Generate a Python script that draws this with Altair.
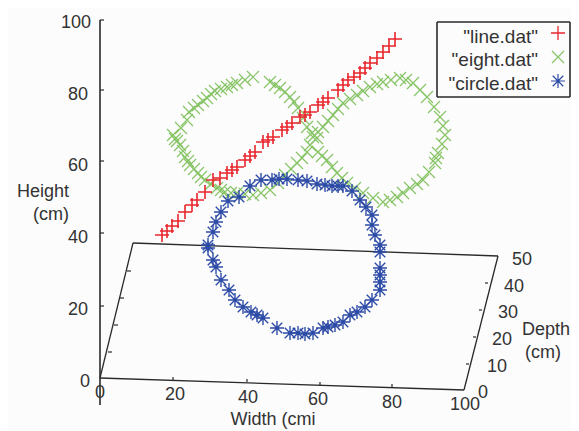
import altair as alt
import pandas as pd

FONT = "Liberation Sans"
RED, GREEN, BLUE, INK = "#e8262c", "#86c466", "#2c4ba6", "#2a2a2a"
W, H = 563, 423

line_x = [162,167,172,178,185,192,197,205,213,220,227,232,237,245,250,255,263,268,273,282,287,292,300,305,310,318,323,328,338,343,348,354,360,365,370,377,383,389,395]
line_y = [235,231,226,221,212,205,200,192,180,178,173,170,167,160,156,152,142,140,137,130,127,123,117,115,112,105,102,98,90,85,80,77,73,68,63,58,52,46,39]

eight_x = [253,245,237,232,227,221,215,211,207,203,198,194,189,187,181,173,175,177,180,183,185,188,190,194,198,201,205,211,217,221,225,231,237,245,253,261,270,278,285,291,297,302,307,310,313,318,323,328,333,338,343,350,357,363,370,377,383,391,400,406,413,420,427,434,440,443,445,442,438,436,435,429,423,417,410,403,397,390,383,373,363,355,347,342,337,332,327,322,318,317,312,307,303,298,294,290,285,280,275,270]
eight_y = [77,80,83,85,87,89,91,94,98,101,105,108,112,120,128,135,139,141,145,151,157,161,165,169,173,177,180,184,188,190,192,193,193,194,195,193,190,183,175,169,163,158,152,145,137,132,127,121,115,109,103,99,95,91,87,84,82,80,78,80,83,90,97,107,117,126,135,144,153,158,163,172,180,184,188,193,197,200,202,198,193,188,183,178,173,167,160,156,152,138,133,127,118,108,102,97,92,88,85,82]

circle_x = [250,261,272,279,287,298,307,317,325,332,338,343,352,360,366,372,372,375,380,380,380,380,380,380,372,365,357,350,343,335,328,323,313,305,298,290,277,263,257,251,243,235,229,221,216,213,208,208,213,216,221,228,239]
circle_y = [186,180,180,179,179,180,181,184,185,186,186,186,191,200,207,215,225,235,245,252,268,275,282,290,300,307,312,315,322,325,327,328,333,334,333,333,328,318,315,312,307,300,290,280,267,260,248,245,232,222,212,201,197]

edge_x1 = [100,100,133,498,464]
edge_y1 = [20,378,243,256,390]
edge_x2 = [100,133,498,464,100]
edge_y2 = [405,243,256,390,378]
edge_w = [1.6,1.3,1.3,1.3,1.3]

tick_x1 = [100,100,100,100,100,108,114,120,127,173,247,320,392,488,482,476,469]
tick_y1 = [20,90,161,233,306,352,325,298,271,380,382,385,387,283,310,337,364]
tick_x2 = [104,104,104,104,104,112,118,124,131,173,247,320,392,485,479,473,466]
tick_y2 = [20,90,161,233,306,352,325,298,271,377,379,382,384,283,310,337,364]

label_text = ["100","80","60","40","20","0","0","20","40","60","80","100","0","10","20","30","40","50","Width (cmi","Height","(cm)","Depth","(cm)"]
label_x = [76,78,78,78,78,85,100,175,248,318,392,465,483,497,502,508,514,522,273,43,51,546,543]
label_y = [23,95,166,238,310,382,393,395,398,400,403,405,393,367,340,313,287,260,420,192,215,330,353]

legend_text = ['"line.dat"','"eight.dat"','"circle.dat"']
legend_x = [538,538,538]
legend_y = [37,60,84]
key_x = [558,558,558]
key_y = [33,57,81]

box_x1, box_x2, box_y1, box_y2 = [437], [570], [22], [97]

PLUS = "M-1,0L1,0M0,-1L0,1"
CROSS = "M-1,-1L1,1M-1,1L1,-1"
STAR = "M-1,0L1,0M0,-1L0,1M-.75,-.75L.75,.75M-.75,.75L.75,-.75"

sx = alt.Scale(domain=[8, 8 + W], range=[0, W])
sy = alt.Scale(domain=[8, 8 + H], range=[0, H])
X = lambda f="x": alt.X(f"{f}:Q", scale=sx, axis=None)
Y = lambda f="y": alt.Y(f"{f}:Q", scale=sy, axis=None)

def rules(x1, y1, x2, y2, w):
    d = pd.DataFrame({"x": x1, "y": y1, "x2": x2, "y2": y2})
    return alt.Chart(d).mark_rule(color=INK, strokeWidth=w).encode(
        x=X(), y=Y(), x2="x2:Q", y2="y2:Q")

def pts(x, y, shape, color, size, width):
    d = pd.DataFrame({"x": x, "y": y})
    return alt.Chart(d).mark_point(shape=shape, stroke=color, size=size, strokeWidth=width, filled=False, opacity=1).encode(x=X(), y=Y())

def texts(t, x, y, align, size=18):
    d = pd.DataFrame({"t": t, "x": x, "y": y})
    return alt.Chart(d).mark_text(font=FONT, fontSize=size, color="#333333", align=align, baseline="middle").encode(
        x=X(), y=Y(), text="t:N")

edges = alt.layer(*[rules([a], [b], [c], [d], w) for a, b, c, d, w in zip(edge_x1, edge_y1, edge_x2, edge_y2, edge_w)])

chart = alt.layer(
    edges,
    rules(tick_x1, tick_y1, tick_x2, tick_y2, 1.2),
    pts(eight_x, eight_y, CROSS, GREEN, 144, 1.2),
    pts(line_x, line_y, PLUS, RED, 196, 1.6),
    pts(circle_x, circle_y, STAR, BLUE, 196, 1.4),
    texts(label_text, label_x, label_y, "center"),
    rules(box_x1 + box_x1 + box_x2 + box_x1, box_y1 + box_y2 + box_y1 + box_y1,
          box_x2 + box_x2 + box_x2 + box_x1, box_y1 + box_y2 + box_y2 + box_y2, 1.6),
    texts(legend_text, legend_x, legend_y, "right", 19),
    pts(key_x[:1], key_y[:1], PLUS, RED, 196, 1.3),
    pts(key_x[1:2], key_y[1:2], CROSS, GREEN, 144, 1.2),
    pts(key_x[2:], key_y[2:], STAR, BLUE, 196, 1.2),
).properties(
    width=W, height=H, background="#fcfcfc", padding=0,
    autosize=alt.AutoSizeParams(type="none"),
).configure_view(stroke=None)

chart.save("out.html", embed_options={"renderer": "svg", "actions": False})
